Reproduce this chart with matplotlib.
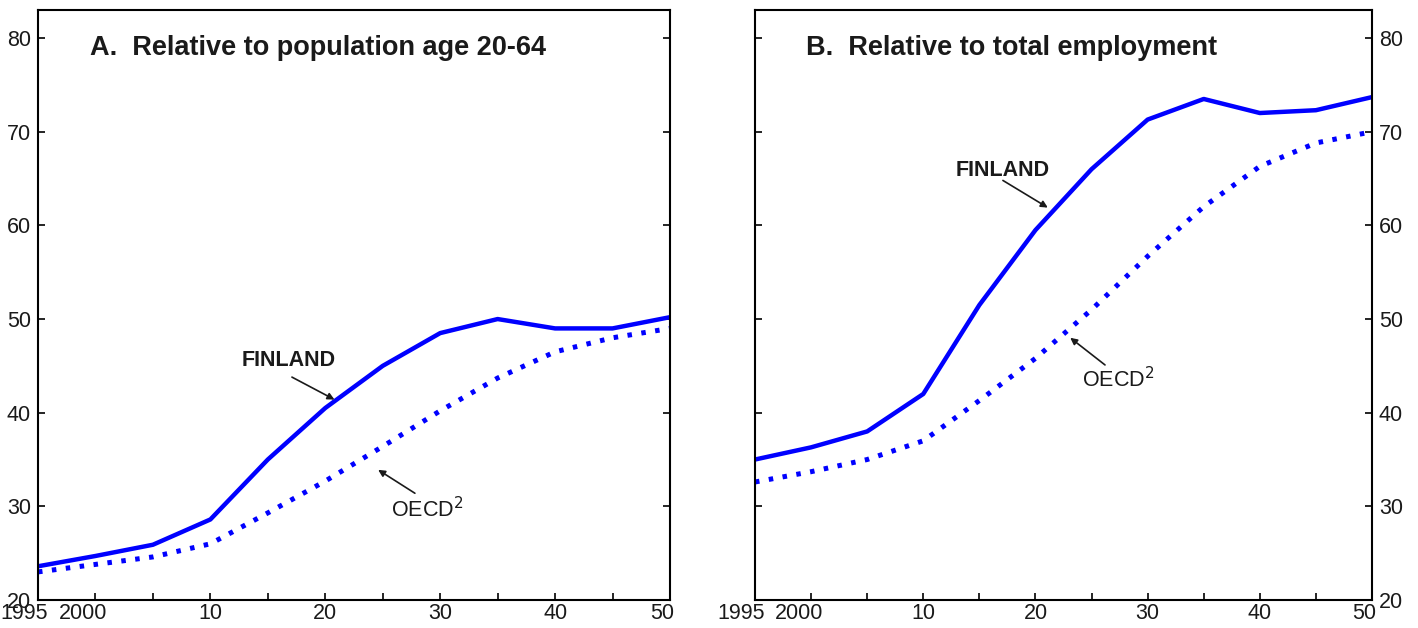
import matplotlib
matplotlib.use("Agg")
import matplotlib.pyplot as plt
import matplotlib.transforms as mtransforms

plt.rcParams['font.family'] = ['Liberation Sans', 'DejaVu Sans']

years = [1995, 2000, 2005, 2010, 2015, 2020, 2025, 2030, 2035, 2040, 2045, 2050]

finland_pop = [23.6, 24.7, 25.9, 28.6, 35.0, 40.5, 45.0, 48.5, 50.0, 49.0, 49.0, 50.2]
oecd_pop = [23.0, 23.8, 24.6, 26.0, 29.3, 32.7, 36.4, 40.2, 43.7, 46.5, 48.0, 49.0]

finland_emp = [35.0, 36.3, 38.0, 42.0, 51.5, 59.5, 66.0, 71.3, 73.5, 72.0, 72.3, 73.7]
oecd_emp = [32.6, 33.7, 35.0, 37.0, 41.3, 45.8, 51.0, 56.7, 62.0, 66.3, 68.8, 70.0]

xticks = [1995, 2000, 2005, 2010, 2015, 2020, 2025, 2030, 2035, 2040, 2045, 2050]
xticklabels = ["1995", "2000", "", "10", "", "20", "", "30", "", "40", "", "50"]
yticks = [20, 30, 40, 50, 60, 70, 80]

titles = ["A.  Relative to population age 20-64", "B.  Relative to total employment"]

blue = "#0000ff"
txt = "#1a1a1a"

fig = plt.figure(figsize=(14.18, 6.28), dpi=100)
axA = fig.add_axes([38/1418, 1-600/628, (670-38)/1418, 590/628])
axB = fig.add_axes([755/1418, 1-600/628, (1372-755)/1418, 590/628])

def style(ax, right_labels):
    ax.set_xlim(1995, 2050)
    ax.set_ylim(20, 83)
    ax.set_xticks(xticks)
    ax.set_xticklabels(xticklabels)
    ax.set_yticks(yticks)
    ax.tick_params(axis='both', direction='in', length=5, width=1.2,
                   labelsize=15.5, colors='black', labelcolor=txt)
    ax.tick_params(axis='y', left=True, right=True,
                   labelleft=not right_labels, labelright=right_labels, pad=5)
    ax.tick_params(axis='x', top=False, pad=2)
    for s in ax.spines.values():
        s.set_linewidth(1.5)
    shifts = {0: -14, 1: -12, 11: -8}
    for i, lab in enumerate(ax.get_xticklabels()):
        if i in shifts:
            lab.set_transform(lab.get_transform() +
                              mtransforms.ScaledTranslation(shifts[i]/100, 0, fig.dpi_scale_trans))

for ax, fin, oecd, title, right in [(axA, finland_pop, oecd_pop, titles[0], False),
                                    (axB, finland_emp, oecd_emp, titles[1], True)]:
    ax.plot(years, fin, color=blue, lw=3.2, solid_joinstyle='round')
    ax.plot(years, oecd, color=blue, lw=3.6, linestyle=(0, (0.9, 1.9)))
    style(ax, right)
    ax.text(0.083, 0.935, title, transform=ax.transAxes, fontsize=19.5,
            fontweight='bold', color=txt, va='center', ha='left')

arrowprops = dict(arrowstyle='-|>', color=txt, lw=1.2, mutation_scale=10,
                  shrinkA=0, shrinkB=0)

# Panel A annotations
axA.text(2016.8, 45.6, "FINLAND", fontsize=15.5, fontweight='bold', color=txt,
         ha='center', va='center')
axA.annotate("", xy=(2020.8, 41.4), xytext=(2017.1, 43.8), arrowprops=arrowprops)
axA.text(2028.9, 29.6, "OECD$^2$", fontsize=15.5, color=txt, ha='center', va='center')
axA.annotate("", xy=(2024.6, 33.9), xytext=(2027.8, 31.4), arrowprops=arrowprops)

# Panel B annotations
axB.text(2017.1, 65.9, "FINLAND", fontsize=15.5, fontweight='bold', color=txt,
         ha='center', va='center')
axB.annotate("", xy=(2021.1, 61.9), xytext=(2017.1, 64.8), arrowprops=arrowprops)
axB.text(2027.4, 43.5, "OECD$^2$", fontsize=15.5, color=txt, ha='center', va='center')
axB.annotate("", xy=(2023.1, 48.0), xytext=(2026.2, 45.1), arrowprops=arrowprops)

fig.savefig("out.png", dpi=100)
